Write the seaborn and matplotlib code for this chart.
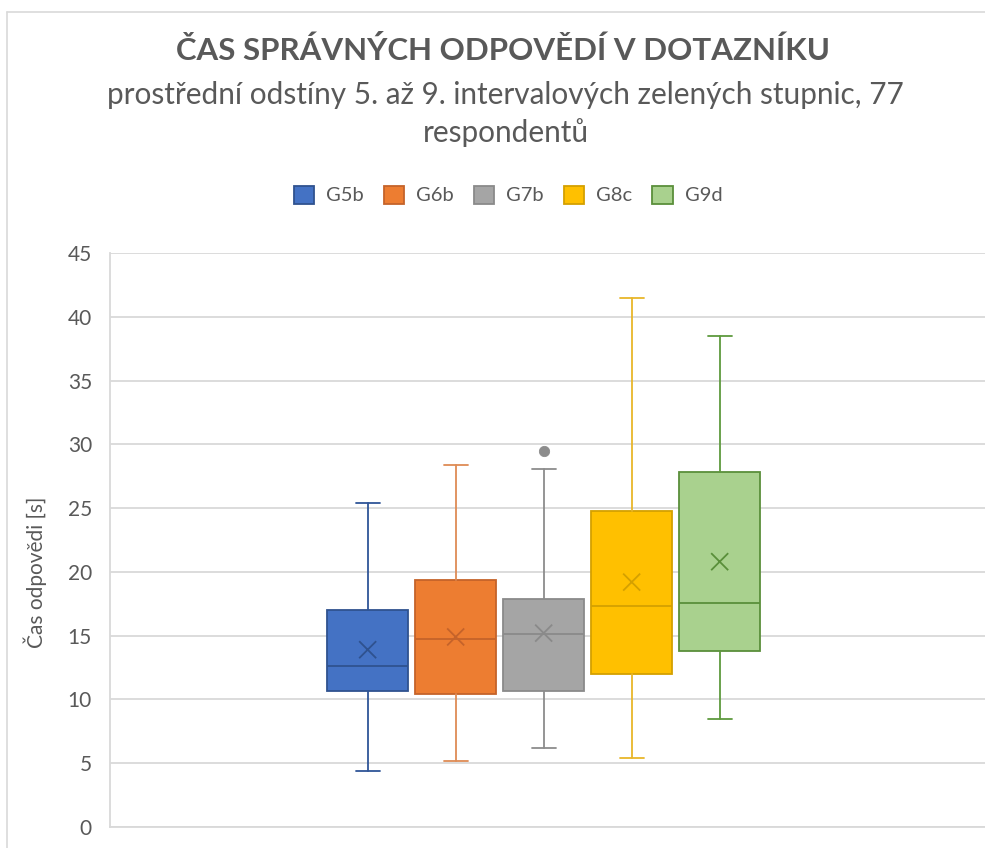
import matplotlib
matplotlib.use("Agg")
import matplotlib.pyplot as plt
from matplotlib.patches import Patch
from matplotlib.lines import Line2D
import seaborn as sns
import pandas as pd

# ---- data ----
groups = ["G5b", "G6b", "G7b", "G8c", "G9d"]
whisker_low = [4.4, 5.2, 6.2, 5.4, 8.5]
q1 = [10.7, 10.4, 10.7, 12.0, 13.8]
median = [12.6, 14.7, 15.1, 17.3, 17.6]
q3 = [17.0, 19.4, 17.9, 24.8, 27.8]
whisker_high = [25.4, 28.4, 28.1, 41.5, 38.5]
mean = [13.9, 14.9, 15.2, 19.2, 20.8]
outliers = [[], [], [29.5], [], []]
yticks = [0, 5, 10, 15, 20, 25, 30, 35, 40, 45]

fills = ["#4472C4", "#ED7D31", "#A5A5A5", "#FFC000", "#A9D18E"]
edges = ["#2F528F", "#C5632A", "#8A8A8A", "#D4A000", "#5A8F3A"]
whisk = ["#2F5597", "#DE8B55", "#8C8C8C", "#E8B62A", "#5E9A3E"]

sns.set_theme(style="white")
plt.rcParams["font.family"] = ["Lato", "DejaVu Sans"]

W, H = 985, 848
fig = plt.figure(figsize=(W / 100, H / 100), dpi=100)
ax = fig.add_axes([110 / W, (H - 827) / H, (985 - 110) / W, (827 - 253) / H])

positions = list(range(len(groups)))
stats = []
for i, g in enumerate(groups):
    stats.append(dict(label=g, whislo=whisker_low[i], q1=q1[i], med=median[i],
                      q3=q3[i], whishi=whisker_high[i], mean=mean[i],
                      fliers=outliers[i]))

for i, st in enumerate(stats):
    ax.bxp([st], positions=[positions[i]], widths=0.92, capwidths=0.27,
           patch_artist=True, showfliers=False, showmeans=False,
           boxprops=dict(facecolor=fills[i], edgecolor=edges[i], linewidth=1.3),
           medianprops=dict(color=edges[i], linewidth=1.3),
           whiskerprops=dict(color=whisk[i], linewidth=1.3),
           capprops=dict(color=whisk[i], linewidth=1.3), zorder=3)

mean_df = pd.DataFrame({"pos": positions, "mean": mean, "g": groups})
sns.scatterplot(data=mean_df, x="pos", y="mean", hue="g", palette=edges,
                marker="x", s=150, linewidth=1.3, legend=False, ax=ax, zorder=5)

out_rows = [(positions[i], v) for i in range(len(groups)) for v in outliers[i]]
if out_rows:
    odf = pd.DataFrame(out_rows, columns=["pos", "val"])
    sns.scatterplot(data=odf, x="pos", y="val", color="#8C8C8C", s=55,
                    edgecolor="#8C8C8C", legend=False, ax=ax, zorder=5)

ax.set_xlim(-2.928, 7.015)
ax.set_ylim(0, 45)
ax.set_yticks(yticks)
ax.set_yticklabels([str(t) for t in yticks])
ax.set_xticks([])
ax.set_xlabel("")
ax.yaxis.grid(True, color="#D9D9D9", linewidth=1.3)
ax.set_axisbelow(True)
for s in ["top", "right"]:
    ax.spines[s].set_visible(False)
for s in ["left", "bottom"]:
    ax.spines[s].set_color("#D9D9D9")
    ax.spines[s].set_linewidth(1.3)
ax.tick_params(axis="y", length=0, pad=13, labelsize=15, labelcolor="#595959")
ax.set_ylabel("")
fig.text(35 / W, 1 - 572 / H, "Čas odpovědi [s]", rotation=90, ha="center",
         va="center", fontsize=15, color="#595959")

fig.text(503 / W, 1 - 50 / H, "ČAS SPRÁVNÝCH ODPOVĚDÍ V DOTAZNÍKU",
         ha="center", va="center", fontsize=22.5, fontweight="bold", color="#595959")
fig.text(505 / W, 1 - 95 / H,
         "prostřední odstíny 5. až 9. intervalových zelených stupnic, 77",
         ha="center", va="center", fontsize=21.4, color="#595959")
fig.text(506 / W, 1 - 133 / H, "respondentů",
         ha="center", va="center", fontsize=21.4, color="#595959")

handles = [Patch(facecolor=fills[i], edgecolor=edges[i], linewidth=1.3, label=g)
           for i, g in enumerate(groups)]
fig.legend(handles=handles, loc="center", bbox_to_anchor=(508 / W, 1 - 195 / H),
           ncol=5, frameon=False, fontsize=14.5, handlelength=1.0, handleheight=1.0,
           handletextpad=0.6, columnspacing=1.0, labelcolor="#595959")

# chart area border (partially visible)
fig.add_artist(Line2D([7 / W, 1], [1 - 12 / H, 1 - 12 / H], color="#D9D9D9",
                      linewidth=1.2, transform=fig.transFigure))
fig.add_artist(Line2D([7 / W, 7 / W], [0, 1 - 12 / H], color="#D9D9D9",
                      linewidth=1.2, transform=fig.transFigure))

fig.savefig("out.png", dpi=100)
